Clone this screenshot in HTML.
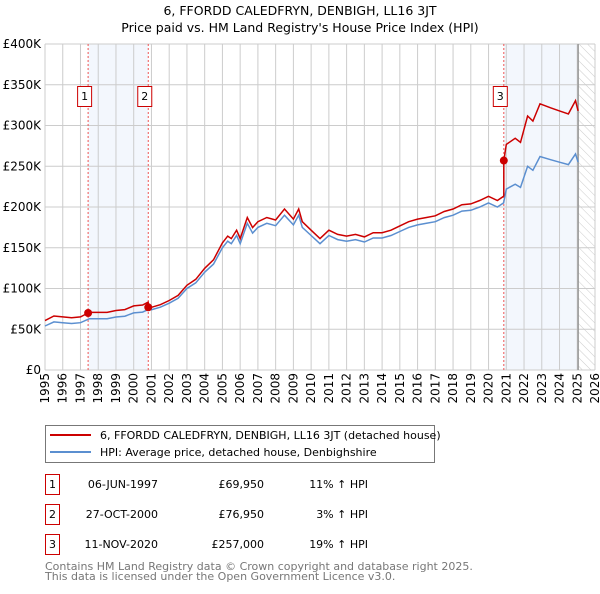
<!DOCTYPE html>
<html><head><meta charset="utf-8"><style>
body{margin:0;background:#fff;font-family:"DejaVu Sans","Liberation Sans",sans-serif;}
svg text{font-family:"DejaVu Sans","Liberation Sans",sans-serif;}
</style></head><body>
<svg id="chart" width="600" height="590" viewBox="0 0 600 590" xmlns="http://www.w3.org/2000/svg">
<defs><pattern id="hatch" width="6" height="6" patternUnits="userSpaceOnUse" patternTransform="rotate(-45)"><line x1="0" y1="0" x2="0" y2="6" stroke="#ccc" stroke-width="1"/></pattern></defs>
<text x="300" y="15" text-anchor="middle" font-size="12.5">6, FFORDD CALEDFRYN, DENBIGH, LL16 3JT</text>
<text x="300" y="32" text-anchor="middle" font-size="12.5">Price paid vs. HM Land Registry's House Price Index (HPI)</text>
<g id="plot"></g>
<g>
<rect x="45.5" y="425.5" width="389" height="37" fill="#fff" stroke="#777"/>
<line x1="50" y1="435" x2="91" y2="435" stroke="#cc0000" stroke-width="2"/>
<text x="100" y="439" font-size="11">6, FFORDD CALEDFRYN, DENBIGH, LL16 3JT (detached house)</text>
<line x1="50" y1="452" x2="91" y2="452" stroke="#5b8fd0" stroke-width="2"/>
<text x="100" y="456" font-size="11">HPI: Average price, detached house, Denbighshire</text>
</g>
<g id="table" font-size="11"></g>
<text x="45" y="570" font-size="11" fill="#777">Contains HM Land Registry data © Crown copyright and database right 2025.</text>
<text x="45" y="580" font-size="11" fill="#777">This data is licensed under the Open Government Licence v3.0.</text>
</svg>
<script>
const years=[1995,1995.5,1996,1996.5,1997,1997.5,1998,1998.5,1999,1999.5,2000,2000.5,2000.8,2001,2001.5,2002,2002.5,2003,2003.5,2004,2004.5,2005,2005.3,2005.5,2005.8,2006,2006.4,2006.7,2007,2007.5,2008,2008.5,2009,2009.3,2009.5,2010,2010.5,2011,2011.5,2012,2012.5,2013,2013.5,2014,2014.5,2015,2015.5,2016,2016.5,2017,2017.5,2018,2018.5,2019,2019.5,2020,2020.5,2020.85,2021,2021.5,2021.8,2022.2,2022.5,2022.9,2023.5,2024,2024.5,2024.9,2025.05];
const hpi=[54,59,58,57,58,63,63,63,65,66,70,71,74,74,77,82,88,100,107,120,130,150,158,155,165,155,180,168,175,180,177,190,178,190,175,165,155,165,160,158,160,157,162,162,165,170,175,178,180,182,187,190,195,196,200,205,200,205,222,228,224,250,245,262,258,255,252,265,255];
const saleYears=[1997.43,2000.82,2020.86];
const salePrices=[69950,76950,257000];
const saleDates=["06-JUN-1997","27-OCT-2000","11-NOV-2020"];
const saleLabels=["£69,950","£76,950","£257,000"];
const salePct=["11%","3%","19%"];
const yTicks=[0,50,100,150,200,250,300,350,400];
const yTickLabels=["£0","£50K","£100K","£150K","£200K","£250K","£300K","£350K","£400K"];
const xTicks=[1995,1996,1997,1998,1999,2000,2001,2002,2003,2004,2005,2006,2007,2008,2009,2010,2011,2012,2013,2014,2015,2016,2017,2018,2019,2020,2021,2022,2023,2024,2025,2026];
const dataEnd=2025.05;

const NS="http://www.w3.org/2000/svg";
const L=45,R=595,T=44,B=370;
const xs=y=>L+(y-1995)/(2026-1995)*(R-L);
const ys=v=>B-v/400*(B-T);
const g=document.getElementById('plot');
function mk(tag,attrs,parent){const e=document.createElementNS(NS,tag);for(const k in attrs)e.setAttribute(k,attrs[k]);(parent||g).appendChild(e);return e;}
function hpiAt(t){for(let i=1;i<years.length;i++){if(t<=years[i]){const f=(t-years[i-1])/(years[i]-years[i-1]);return hpi[i-1]+f*(hpi[i]-hpi[i-1]);}}return hpi[hpi.length-1];}

let e=mk('rect',{x:xs(saleYears[0]),y:T,width:xs(saleYears[1])-xs(saleYears[0]),height:B-T,fill:'#eef3fc',opacity:0.7});

e=mk('rect',{x:xs(saleYears[2]),y:T,width:xs(dataEnd)-xs(saleYears[2]),height:B-T,fill:'#eef3fc',opacity:0.7});

e=mk('rect',{x:xs(dataEnd),y:T,width:R-xs(dataEnd),height:B-T,fill:'url(#hatch)'});

yTicks.forEach((v,i)=>{
 let l=mk('line',{x1:L,x2:R,y1:ys(v),y2:ys(v),stroke:'#ccc'});
 
 let t=mk('text',{x:L-4,y:ys(v)+4,'text-anchor':'end','font-size':12});t.textContent=yTickLabels[i];
 
});
xTicks.forEach(v=>{
 let l=mk('line',{x1:xs(v),x2:xs(v),y1:T,y2:B,stroke:'#ccc'});
 
 const tx=xs(v)+4,ty=373;
 let t=mk('text',{x:tx,y:ty,'text-anchor':'end','font-size':12,transform:'rotate(-90 '+tx+' '+ty+')'});t.textContent=v;
 
});
e=mk('line',{x1:xs(dataEnd),x2:xs(dataEnd),y1:T,y2:B,stroke:'#999','stroke-width':1.5});

saleYears.forEach((s,i)=>{
 let l=mk('line',{x1:xs(s),x2:xs(s),y1:T,y2:B,stroke:'#e55','stroke-dasharray':'2,2','stroke-width':1});
 
});
let d=years.map((y,i)=>(i?'L':'M')+xs(y).toFixed(1)+','+ys(hpi[i]).toFixed(1)).join('');
e=mk('path',{d:d,fill:'none',stroke:'#5b8fd0','stroke-width':1.5});

const factors=saleYears.map((s,i)=>salePrices[i]/1000/hpiAt(s));
let pts=[];
years.forEach((y,i)=>{
 let k=0;for(let j=0;j<saleYears.length;j++)if(y>=saleYears[j])k=j;
 pts.push([y,hpi[i]*factors[k]]);
});
saleYears.forEach((s,j)=>{ if(j>0)pts.push([s-0.001,hpiAt(s)*factors[j-1]]); pts.push([s,salePrices[j]/1000]); });
pts.sort((a,b)=>a[0]-b[0]);
d=pts.map((p,i)=>(i?'L':'M')+xs(p[0]).toFixed(1)+','+ys(p[1]).toFixed(1)).join('');
e=mk('path',{d:d,fill:'none',stroke:'#cc0000','stroke-width':1.5});

saleYears.forEach((s,i)=>{
 let c=mk('circle',{cx:xs(s),cy:ys(salePrices[i]/1000),r:4,fill:'#cc0000'});
 
 let bx=mk('rect',{x:xs(s)-10.5,y:86.5,width:14,height:20,fill:'#fff',stroke:'#cc0000'});
 
 let t=mk('text',{x:xs(s)-3.5,y:100,'text-anchor':'middle','font-size':11});t.textContent=i+1;
 
});
const tb=document.getElementById('table');
saleYears.forEach((s,i)=>{
 const y=487+i*30;
 let r=mk('rect',{x:45.5,y:y-12.5,width:14,height:20,fill:'#fff',stroke:'#cc0000'},tb);
 
 let t=mk('text',{x:52.5,y:y+1,'text-anchor':'middle'},tb);t.textContent=i+1;
 
 t=mk('text',{x:158,y:y+1,'text-anchor':'end'},tb);t.textContent=saleDates[i];
 
 t=mk('text',{x:264,y:y+1,'text-anchor':'end'},tb);t.textContent=saleLabels[i];
 
 t=mk('text',{x:368,y:y+1,'text-anchor':'end'},tb);t.textContent=salePct[i]+' ↑ HPI';
 
});
</script>
</body></html>
